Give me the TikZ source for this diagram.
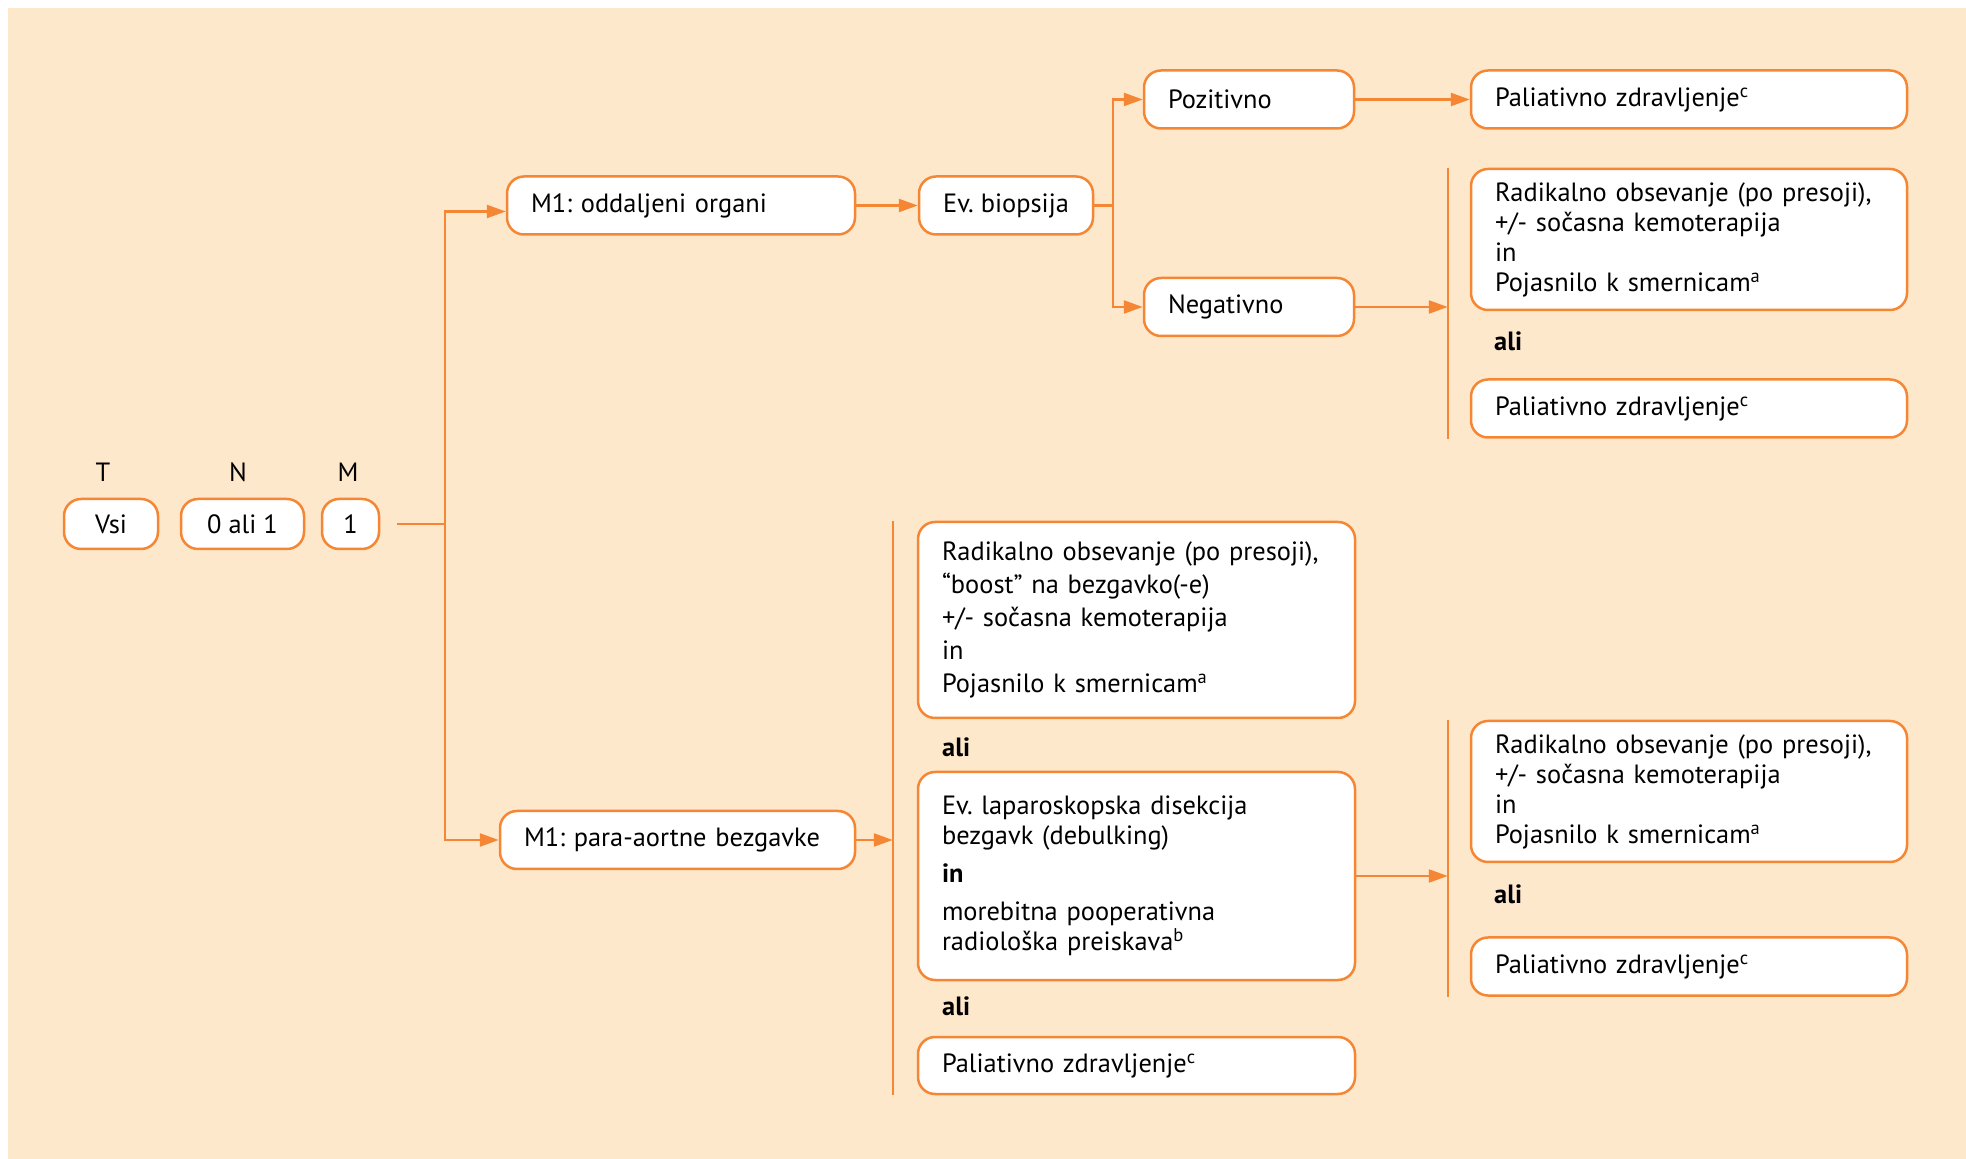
\documentclass[tikz,border=0pt]{standalone}
\usepackage{fontspec}
\setmainfont{PT Sans}
\usepackage{tikz}
\usetikzlibrary{positioning,arrows.meta}

\definecolor{peach}{RGB}{254,232,204}
\definecolor{orng}{RGB}{245,134,52}

\tikzset{
  box/.style={draw=orng, line width=1.25pt, fill=white, rounded corners=8.5pt,
    align=left, inner xsep=12pt, minimum height=29pt},
  tnm/.style={draw=orng, line width=1.25pt, fill=white, rounded corners=8.5pt,
    minimum height=25pt, inner sep=0pt},
  alitext/.style={anchor=west, inner sep=0pt, font=\fontsize{13.2}{15}\selectfont\bfseries},
  conn/.style={draw=orng, line width=1.2pt},
  arr/.style={conn, -{Triangle[length=9.5pt,width=6.5pt]}},
}

\begin{document}
\begin{tikzpicture}[node distance=2cm, on grid, font=\fontsize{13.2}{15}\selectfont\frenchspacing]
  \useasboundingbox (0,0) rectangle (983pt,-579.5pt);
  \fill[peach] (4pt,-4pt) rectangle (983pt,-579.5pt);

  % T N M
  \node[tnm, minimum width=47pt] (vsi) at (55.5pt,-262pt) {Vsi};
  \node[tnm, minimum width=61.5pt] (nal) [right=65.75pt of vsi] {0 ali 1};
  \node[tnm, minimum width=28.5pt] (mone) [right=54pt of nal] {1};
  \node (tlab) [above=26pt of vsi, xshift=-4pt] {T};
  \node (nlab) [above=26pt of nal, xshift=-2.25pt] {N};
  \node (mlab) [above=26pt of mone, xshift=-1.25pt] {M};

  % oddaljeni organi
  \node[box, text width=150pt] (m1org) [above right=159.25pt and 165.25pt of mone] {M1: oddaljeni organi};
  \node[box, minimum width=87pt, inner xsep=6pt] (biop) [right=162.5pt of m1org] {Ev. biopsija};
  \node[box, text width=81pt] (pos) [above right=53pt and 121.5pt of biop] {Pozitivno};
  \node[box, text width=81pt] (neg) [below=103.75pt of pos] {Negativno};
  \node[box, text width=194pt] (palA) [right=220pt of pos] {Paliativno zdravljenje\textsuperscript{c}};
  \node[box, text width=194pt, minimum height=70.5pt] (radA) [below=70pt of palA]
    {Radikalno obsevanje (po presoji),\\ +/- sočasna kemoterapija\\ in\\ Pojasnilo k smernicam\textsuperscript{a}};
  \node[box, text width=194pt] (palB) [below=84.5pt of radA] {Paliativno zdravljenje\textsuperscript{c}};
  \node[alitext] (aliA) at ([xshift=12pt,yshift=-15pt]radA.south west) {ali};

  % para-aortne bezgavke
  \node[box, text width=153.5pt] (m1par) [below=317.25pt of m1org, xshift=-1.75pt] {M1: para-aortne bezgavke};
  \node[box, text width=194.5pt, minimum height=98pt] (radB) [above right=110pt and 229.5pt of m1par]
    {Radikalno obsevanje (po presoji),\\[1.5pt] “boost” na bezgavko(-e)\\[1.5pt] +/- sočasna kemoterapija\\[1.5pt] in\\[1.5pt] Pojasnilo k smernicam\textsuperscript{a}};
  \node[box, text width=194.5pt, minimum height=104pt] (lap) [below=128pt of radB]
    {Ev. laparoskopska disekcija\\ bezgavk (debulking)\\[4pt] \textbf{in}\\[4pt] morebitna pooperativna\\ radiološka preiskava\textsuperscript{b}};
  \node[box, text width=194.5pt, minimum height=28.5pt] (palC) [below=94.75pt of lap] {Paliativno zdravljenje\textsuperscript{c}};
  \node[alitext] (aliB) at ([xshift=12.5pt,yshift=-14pt]radB.south west) {ali};
  \node[alitext] (aliC) at ([xshift=12.5pt,yshift=-12.5pt]lap.south west) {ali};
  \node[box, text width=194pt, minimum height=70.5pt] (radC) [above right=42.25pt and 276.25pt of lap]
    {Radikalno obsevanje (po presoji),\\ +/- sočasna kemoterapija\\ in\\ Pojasnilo k smernicam\textsuperscript{a}};
  \node[box, text width=194pt] (palD) [below=87.5pt of radC] {Paliativno zdravljenje\textsuperscript{c}};
  \node[alitext] (aliD) at ([xshift=12pt,yshift=-15.5pt]radC.south west) {ali};

  % connectors
  \coordinate (split) at ([xshift=-30.5pt]m1org.west |- mone);
  \draw[conn] ([xshift=8.5pt]mone.east) -- (split);
  \draw[arr] (split) |- ([yshift=-3pt]m1org.west);
  \draw[arr] (split) |- (m1par);
  \draw[arr] (m1org) -- (biop);
  \coordinate (bsplit) at ([xshift=9.5pt]biop.east);
  \draw[arr] (biop.east) -- (bsplit) |- (pos);
  \draw[arr] (bsplit) |- (neg);
  \draw[arr] (pos) -- (palA);

  \coordinate (barAtop) at ([xshift=-11pt]radA.north west);
  \coordinate (barAbot) at ([xshift=-11pt]palB.south west);
  \draw[conn] (barAtop) -- (barAbot);
  \draw[arr] (neg) -- (neg -| barAtop);

  \coordinate (barBtop) at ([xshift=-12pt]radB.north west);
  \coordinate (barBbot) at ([xshift=-12pt]palC.south west);
  \draw[conn] (barBtop) -- (barBbot);
  \draw[arr] (m1par) -- (m1par -| barBtop);

  \coordinate (barCtop) at ([xshift=-11pt]radC.north west);
  \coordinate (barCbot) at ([xshift=-11pt]palD.south west);
  \draw[conn] (barCtop) -- (barCbot);
  \draw[arr] (lap) -- (lap -| barCtop);
\end{tikzpicture}
\end{document}
